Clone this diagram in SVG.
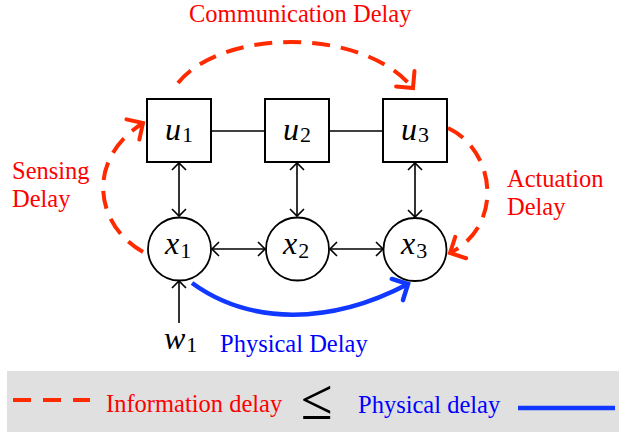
<svg xmlns="http://www.w3.org/2000/svg" width="619" height="432" viewBox="0 0 619 432">
  <style>
    text { font-family: "Liberation Serif", "Times New Roman", serif; }
    .box { fill: #fff; stroke: #000; stroke-width: 2; }
    .node { fill: #fff; stroke: #000; stroke-width: 1.8; }
    .link { fill: none; stroke: #000; stroke-width: 1.6; }
    .info { fill: none; stroke: #ff2a00; stroke-width: 4; stroke-dasharray: 18 11; }
    .phys { fill: none; stroke: #1038ff; stroke-width: 4.5; }
    .math { font-style: italic; font-size: 32px; fill: #000; }
    .sub { font-style: normal; font-size: 22px; }
    .lbl { font-size: 24.5px; }
    .red { fill: #ff0000; }
    .blue { fill: #0000ff; }
  </style>
  <defs>
    <marker id="tipBlack" markerUnits="userSpaceOnUse" markerWidth="20" markerHeight="20" refX="10" refY="10" orient="auto-start-reverse" overflow="visible">
      <path d="M3,3 L10,10 L3,17" fill="none" stroke="#000" stroke-width="1.6"/>
    </marker>
    <marker id="tipRed" markerUnits="userSpaceOnUse" markerWidth="30" markerHeight="30" refX="15" refY="15" orient="auto" overflow="visible">
      <path d="M3,3 L15,15 L3,27" fill="none" stroke="#ff2a00" stroke-width="4" stroke-linecap="round"/>
    </marker>
    <marker id="tipBlue" markerUnits="userSpaceOnUse" markerWidth="30" markerHeight="30" refX="15" refY="15" orient="auto" overflow="visible">
      <path d="M3,3 L15,15 L3,27" fill="none" stroke="#1038ff" stroke-width="4.5" stroke-linecap="round"/>
    </marker>
  </defs>

  <!-- connectors -->
  <g id="connectors">
    <line class="link" x1="211" y1="131" x2="265" y2="131"/>
    <line class="link" x1="329" y1="131" x2="383" y2="131"/>
    <line class="link" x1="179" y1="163" x2="179" y2="216" marker-start="url(#tipBlack)" marker-end="url(#tipBlack)"/>
    <line class="link" x1="297" y1="163" x2="297" y2="216" marker-start="url(#tipBlack)" marker-end="url(#tipBlack)"/>
    <line class="link" x1="415" y1="163" x2="415" y2="217" marker-start="url(#tipBlack)" marker-end="url(#tipBlack)"/>
    <line class="link" x1="212" y1="249" x2="265" y2="249" marker-start="url(#tipBlack)" marker-end="url(#tipBlack)"/>
    <line class="link" x1="330" y1="249" x2="383" y2="249" marker-start="url(#tipBlack)" marker-end="url(#tipBlack)"/>
    <line class="link" x1="179" y1="323" x2="179" y2="281" marker-end="url(#tipBlack)"/>
    <!-- information delays -->
    <path class="info" d="M178,83 C220,30 360,25 413,88" marker-end="url(#tipRed)"/>
    <path class="info" d="M143,252 C95,225 85,160 143,123" marker-end="url(#tipRed)"/>
    <path class="info" d="M448,128 C495,150 505,225 450,253" marker-end="url(#tipRed)"/>
    <!-- physical delay -->
    <path class="phys" d="M192,283 C250,325 330,325 408,284" marker-end="url(#tipBlue)"/>
  </g>

  <g id="u1">
    <rect class="box" x="147" y="99" width="64" height="63"/>
    <text class="math" x="165" y="140">u<tspan class="sub" dx="1" dy="2">1</tspan></text>
  </g>
  <g id="u2">
    <rect class="box" x="265" y="99" width="64" height="63"/>
    <text class="math" x="283" y="140">u<tspan class="sub" dx="1" dy="2">2</tspan></text>
  </g>
  <g id="u3">
    <rect class="box" x="383" y="99" width="64" height="63"/>
    <text class="math" x="401" y="140">u<tspan class="sub" dx="1" dy="2">3</tspan></text>
  </g>
  <g id="x1">
    <circle class="node" cx="179.5" cy="249" r="31.5"/>
    <text class="math" x="165" y="254">x<tspan class="sub" dx="1" dy="4">1</tspan></text>
  </g>
  <g id="x2">
    <circle class="node" cx="297.5" cy="249" r="31.5"/>
    <text class="math" x="283" y="254">x<tspan class="sub" dx="1" dy="4">2</tspan></text>
  </g>
  <g id="x3">
    <circle class="node" cx="415" cy="249.5" r="31.5"/>
    <text class="math" x="401" y="254">x<tspan class="sub" dx="1" dy="4">3</tspan></text>
  </g>
  <g id="w1">
    <text class="math" x="164" y="349">w<tspan class="sub" dx="1" dy="3">1</tspan></text>
  </g>

  <!-- delay labels -->
  <text class="lbl red" x="189" y="22">Communication Delay</text>
  <text class="lbl red" x="12" y="179">Sensing</text>
  <text class="lbl red" x="12" y="207">Delay</text>
  <text class="lbl red" x="507" y="187">Actuation</text>
  <text class="lbl red" x="507" y="215">Delay</text>
  <text class="lbl blue" x="220" y="352">Physical Delay</text>

  <!-- legend -->
  <g id="legend">
    <rect x="7" y="371" width="612" height="61" fill="#e0e0e0"/>
    <line x1="13" y1="400" x2="90" y2="400" stroke="#ff2a00" stroke-width="4" stroke-dasharray="18 12"/>
    <text class="lbl red" x="106" y="412">Information delay</text>
    <text x="301" y="419" font-size="58" fill="#000">≤</text>
    <text class="lbl blue" x="358" y="413">Physical delay</text>
    <line x1="518" y1="408" x2="615" y2="408" stroke="#1038ff" stroke-width="4.5"/>
  </g>
</svg>
